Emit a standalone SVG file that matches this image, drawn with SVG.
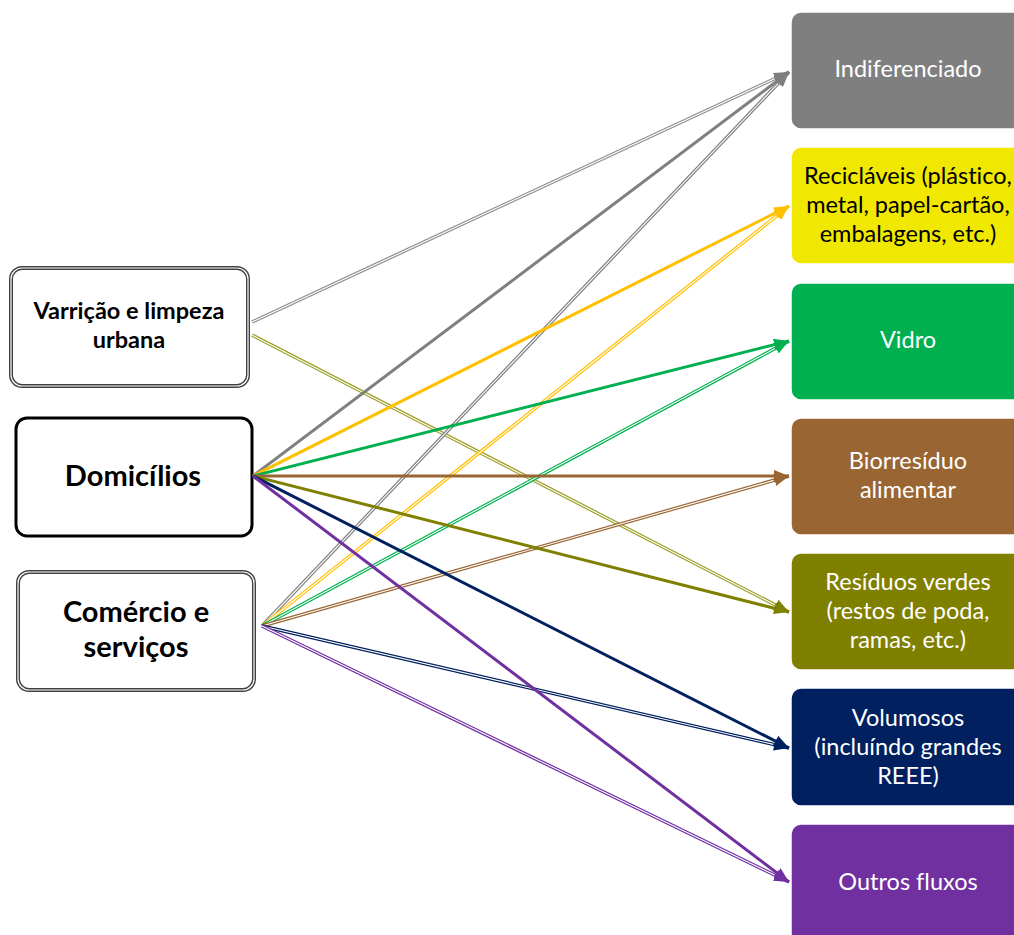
<svg xmlns="http://www.w3.org/2000/svg" width="1014" height="935" viewBox="0 0 1014 935">
<style>
.lt{font-family:Lato,"Open Sans","Liberation Sans",sans-serif;font-weight:bold;fill:#000;text-anchor:middle;font-variant-ligatures:none}
.rt{font-family:Lato,"Open Sans","Liberation Sans",sans-serif;font-size:23.5px;fill:#fff;text-anchor:middle;font-variant-ligatures:none}
.rb{stroke:#fff;stroke-width:1.5}
.c{fill:none;stroke-width:3}
.d{fill:none;stroke-width:3.5}
.w{fill:none;stroke:#fff;stroke-width:1.1}
</style>
<defs>
<marker id="mg" markerUnits="userSpaceOnUse" markerWidth="16" markerHeight="12" refX="15" refY="6" orient="auto"><path d="M0,0 L15,6 L0,12 z" fill="#7F7F7F"/></marker>
<marker id="my" markerUnits="userSpaceOnUse" markerWidth="16" markerHeight="12" refX="15" refY="6" orient="auto"><path d="M0,0 L15,6 L0,12 z" fill="#FFC000"/></marker>
<marker id="mgr" markerUnits="userSpaceOnUse" markerWidth="16" markerHeight="12" refX="15" refY="6" orient="auto"><path d="M0,0 L15,6 L0,12 z" fill="#00B050"/></marker>
<marker id="mb" markerUnits="userSpaceOnUse" markerWidth="16" markerHeight="12" refX="15" refY="6" orient="auto"><path d="M0,0 L15,6 L0,12 z" fill="#996633"/></marker>
<marker id="mo" markerUnits="userSpaceOnUse" markerWidth="16" markerHeight="12" refX="15" refY="6" orient="auto"><path d="M0,0 L15,6 L0,12 z" fill="#808000"/></marker>
<marker id="mn" markerUnits="userSpaceOnUse" markerWidth="16" markerHeight="12" refX="15" refY="6" orient="auto"><path d="M0,0 L15,6 L0,12 z" fill="#002060"/></marker>
<marker id="mp" markerUnits="userSpaceOnUse" markerWidth="16" markerHeight="12" refX="15" refY="6" orient="auto"><path d="M0,0 L15,6 L0,12 z" fill="#7030A0"/></marker>
</defs>

<g id="n-indiferenciado"><rect class="rb" x="791" y="12" width="240" height="117" rx="10" fill="#7F7F7F"/><text class="rt" x="908" y="77">Indiferenciado</text></g>
<g id="n-reciclaveis"><rect class="rb" x="791" y="147" width="240" height="117" rx="10" fill="#F0E800"/><text class="rt" x="908" y="184" style="fill:#000">Recicláveis (plástico,</text><text class="rt" x="908" y="213" style="fill:#000">metal, papel-cartão,</text><text class="rt" x="908" y="242" style="fill:#000">embalagens, etc.)</text></g>
<g id="n-vidro"><rect class="rb" x="791" y="283" width="240" height="117" rx="10" fill="#00B050"/><text class="rt" x="908" y="348">Vidro</text></g>
<g id="n-bio"><rect class="rb" x="791" y="418" width="240" height="117" rx="10" fill="#996633"/><text class="rt" x="908" y="469">Biorresíduo</text><text class="rt" x="908" y="498">alimentar</text></g>
<g id="n-verdes"><rect class="rb" x="791" y="553" width="240" height="117" rx="10" fill="#808000"/><text class="rt" x="908" y="590">Resíduos verdes</text><text class="rt" x="908" y="619">(restos de poda,</text><text class="rt" x="908" y="648">ramas, etc.)</text></g>
<g id="n-volumosos"><rect class="rb" x="791" y="688" width="240" height="118" rx="10" fill="#002060"/><text class="rt" x="908" y="726">Volumosos</text><text class="rt" x="908" y="755">(incluíndo grandes</text><text class="rt" x="908" y="784">REEE)</text></g>
<g id="n-outros"><rect class="rb" x="791" y="824" width="240" height="125" rx="10" fill="#7030A0"/><text class="rt" x="908" y="890">Outros fluxos</text></g>

<g id="n-varricao"><rect x="11" y="268" width="237" height="118" rx="11" fill="#fff" stroke="#404040" stroke-width="4"/><rect x="11" y="268" width="237" height="118" rx="11" fill="none" stroke="#fff" stroke-width="1.2"/><text class="lt" x="129" y="319" font-size="23.5">Varrição  e limpeza</text><text class="lt" x="129" y="348" font-size="23.5">urbana</text></g>
<g id="n-domicilios"><rect x="16" y="418" width="236" height="118" rx="11" fill="#fff" stroke="#000" stroke-width="3"/><text class="lt" x="133" y="486" font-size="29">Domicílios</text></g>
<g id="n-comercio"><rect x="18" y="572" width="236" height="118" rx="11" fill="#fff" stroke="#404040" stroke-width="4"/><rect x="18" y="572" width="236" height="118" rx="11" fill="none" stroke="#fff" stroke-width="1.2"/><text class="lt" x="136" y="622" font-size="29">Comércio e</text><text class="lt" x="136" y="657" font-size="29">serviços</text></g>

<g id="connectors">
<line class="d" x1="252" y1="322" x2="789" y2="72" stroke="#8F8F8F" marker-end="url(#mg)"/><line class="w" x1="252" y1="322" x2="774.5" y2="78.8"/>
<line class="d" x1="252" y1="335" x2="789" y2="612" stroke="#9E9E2A" marker-end="url(#mo)"/><line class="w" x1="252" y1="335" x2="774.8" y2="604.7"/>

<line class="d" x1="262" y1="626" x2="789" y2="72" stroke="#7F7F7F" marker-end="url(#mg)"/><line class="w" x1="262" y1="626" x2="778" y2="83.6"/>
<line class="d" x1="262" y1="626" x2="789" y2="206" stroke="#FFC000" marker-end="url(#my)"/><line class="w" x1="262" y1="626" x2="776.5" y2="216"/>
<line class="d" x1="262" y1="626" x2="789" y2="341" stroke="#00B050" marker-end="url(#mgr)"/><line class="w" x1="262" y1="626" x2="774.9" y2="348.6"/>
<line class="d" x1="262" y1="626" x2="789" y2="476" stroke="#996633" marker-end="url(#mb)"/><line class="w" x1="262" y1="626" x2="773.6" y2="480.4"/>
<line class="d" x1="262" y1="626" x2="789" y2="748" stroke="#002060" marker-end="url(#mn)"/><line class="w" x1="262" y1="626" x2="773.4" y2="744.4"/>
<line class="d" x1="262" y1="626" x2="789" y2="882" stroke="#7030A0" marker-end="url(#mp)"/><line class="w" x1="262" y1="626" x2="774.6" y2="875"/>

<line class="c" x1="253" y1="476" x2="789" y2="72" stroke="#7F7F7F" marker-end="url(#mg)"/>
<line class="c" x1="253" y1="476" x2="789" y2="206" stroke="#FFC000" marker-end="url(#my)"/>
<line class="c" x1="253" y1="476" x2="789" y2="341" stroke="#00B050" marker-end="url(#mgr)"/>
<line class="c" x1="253" y1="476" x2="789" y2="476" stroke="#996633" marker-end="url(#mb)"/>
<line class="c" x1="253" y1="476" x2="789" y2="612" stroke="#808000" marker-end="url(#mo)"/>
<line class="c" x1="253" y1="476" x2="789" y2="748" stroke="#002060" marker-end="url(#mn)"/>
<line class="c" x1="253" y1="476" x2="789" y2="882" stroke="#7030A0" marker-end="url(#mp)"/>
</g>
</svg>
